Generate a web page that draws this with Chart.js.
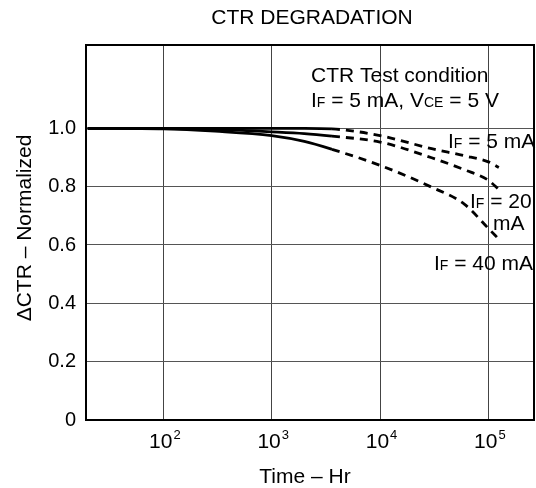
<!DOCTYPE html>
<html>
<head>
<meta charset="utf-8">
<script src="https://cdn.jsdelivr.net/npm/chart.js@4.4.1/dist/chart.umd.min.js"></script>
<style>
  html, body { margin: 0; padding: 0; background: #fff; }
  #wrap { width: 536px; height: 488px; }
</style>
</head>
<body>
<div id="wrap"><canvas id="ctrChart" width="536" height="488"></canvas></div>
<script>
// ---- values ----
const hours   = [20, 100, 300, 1000, 2000, 3600, 10000, 30000, 60000, 100000, 125000];
const ctrIF5  = [1.0, 1.0, 1.0, 1.0, 1.0, 0.998, 0.975, 0.93, 0.906, 0.885, 0.866];
const ctrIF20 = [1.0, 0.999, 0.996, 0.988, 0.982, 0.973, 0.953, 0.899, 0.858, 0.822, 0.79];
const ctrIF40 = [1.0, 0.998, 0.99, 0.975, 0.955, 0.928, 0.873, 0.798, 0.74, 0.657, 0.62];
const solidUntil = 3600;            // beyond this the curves are dashed (extrapolated)
const xTicks = [100, 1000, 10000, 100000];
const yTicks = [0, 0.2, 0.4, 0.6, 0.8, 1.0];

const FONT = '"Liberation Sans", Arial, Helvetica, sans-serif';
const TXT = 21;

function toPoints(vals) {
    return vals.map((v, i) => ({ x: hours[i], y: v }));
}

function curve(vals) {
    return {
        data: toPoints(vals),
        borderColor: '#000',
        borderWidth: 2.8,
        pointRadius: 0,
        fill: false,
        cubicInterpolationMode: 'monotone',
        segment: {
            borderDash: ctx => ctx.p0.parsed.x >= solidUntil ? [8, 6] : undefined
        }
    };
}

// draw text made of normal + small (subscript style) pieces
function richText(ctx, parts, x, y, size, align) {
    const small = Math.round(size * 0.66);
    let total = 0;
    parts.forEach(p => {
        ctx.font = (p[1] ? small : size) + 'px ' + FONT;
        total += ctx.measureText(p[0]).width;
    });
    let cx = align === 'center' ? x - total / 2 : x;
    ctx.textAlign = 'left';
    ctx.textBaseline = 'alphabetic';
    parts.forEach(p => {
        ctx.font = (p[1] ? small : size) + 'px ' + FONT;
        ctx.fillText(p[0], cx, y);
        cx += ctx.measureText(p[0]).width;
    });
}

const decorPlugin = {
    id: 'decor',
    afterDraw(chart) {
        const ctx = chart.ctx;
        const a = chart.chartArea;
        const xs = chart.scales.x;
        ctx.save();
        ctx.fillStyle = '#000';

        // frame
        ctx.strokeStyle = '#000';
        ctx.lineWidth = 2;
        ctx.strokeRect(a.left, a.top, a.right - a.left, a.bottom - a.top);

        // title
        ctx.font = TXT + 'px ' + FONT;
        ctx.textAlign = 'center';
        ctx.textBaseline = 'alphabetic';
        ctx.fillText('CTR DEGRADATION', 312, 24);

        // x tick labels 10^n
        xTicks.forEach(v => {
            const px = xs.getPixelForValue(v);
            const exp = String(Math.round(Math.log10(v)));
            ctx.font = TXT + 'px ' + FONT;
            const wBase = ctx.measureText('10').width;
            ctx.font = '13px ' + FONT;
            const wExp = ctx.measureText(exp).width;
            const x0 = px + 1 - (wBase + wExp) / 2;
            ctx.textAlign = 'left';
            ctx.font = TXT + 'px ' + FONT;
            ctx.fillText('10', x0, 448);
            ctx.font = '13px ' + FONT;
            ctx.fillText(exp, x0 + wBase + 1, 439);
        });

        // axis titles
        ctx.font = TXT + 'px ' + FONT;
        ctx.textAlign = 'center';
        ctx.fillText('Time \u2013 Hr', 305, 483);
        ctx.save();
        ctx.translate(25, 228);
        ctx.rotate(-Math.PI / 2);
        ctx.textBaseline = 'middle';
        ctx.fillText('\u0394CTR \u2013 Normalized', 0, 0);
        ctx.restore();

        // annotations
        richText(ctx, [['CTR Test condition']], 311, 82, TXT);
        richText(ctx, [['I'], ['F', true], [' = 5 mA, V'], ['CE', true], [' = 5 V']], 311, 107, TXT);
        richText(ctx, [['I'], ['F', true], [' = 5 mA']], 448, 148, TXT);
        richText(ctx, [['I'], ['F', true], [' = 20']], 470, 208, TXT);
        richText(ctx, [['mA']], 493, 230, TXT);
        richText(ctx, [['I'], ['F', true], [' = 40 mA']], 434, 270, TXT);

        ctx.restore();
    }
};

new Chart(document.getElementById('ctrChart'), {
    type: 'line',
    data: {
        datasets: [curve(ctrIF5), curve(ctrIF20), curve(ctrIF40)]
    },
    options: {
        responsive: false,
        animation: false,
        devicePixelRatio: 1,
        layout: { padding: { left: 0, top: 45, right: 2, bottom: 0 } },
        plugins: {
            legend: { display: false },
            title: { display: false },
            tooltip: { enabled: false }
        },
        scales: {
            x: {
                type: 'logarithmic',
                min: 19.3,
                max: 264000,
                afterBuildTicks: s => { s.ticks = xTicks.map(v => ({ value: v })); },
                afterFit: s => { s.height = 68; },
                ticks: { display: false },
                grid: { color: '#444', lineWidth: 1, drawTicks: false },
                border: { display: false }
            },
            y: {
                type: 'linear',
                min: 0,
                max: 1.2856,
                afterBuildTicks: s => { s.ticks = yTicks.map(v => ({ value: v })); },
                afterFit: s => { s.width = 86; },
                ticks: {
                    padding: 10,
                    color: '#000',
                    font: { family: FONT, size: 20 },
                    callback: v => v === 0 ? '0' : v.toFixed(1)
                },
                grid: { color: '#555', lineWidth: 1, drawTicks: false },
                border: { display: false }
            }
        }
    },
    plugins: [decorPlugin]
});
</script>
</body>
</html>
